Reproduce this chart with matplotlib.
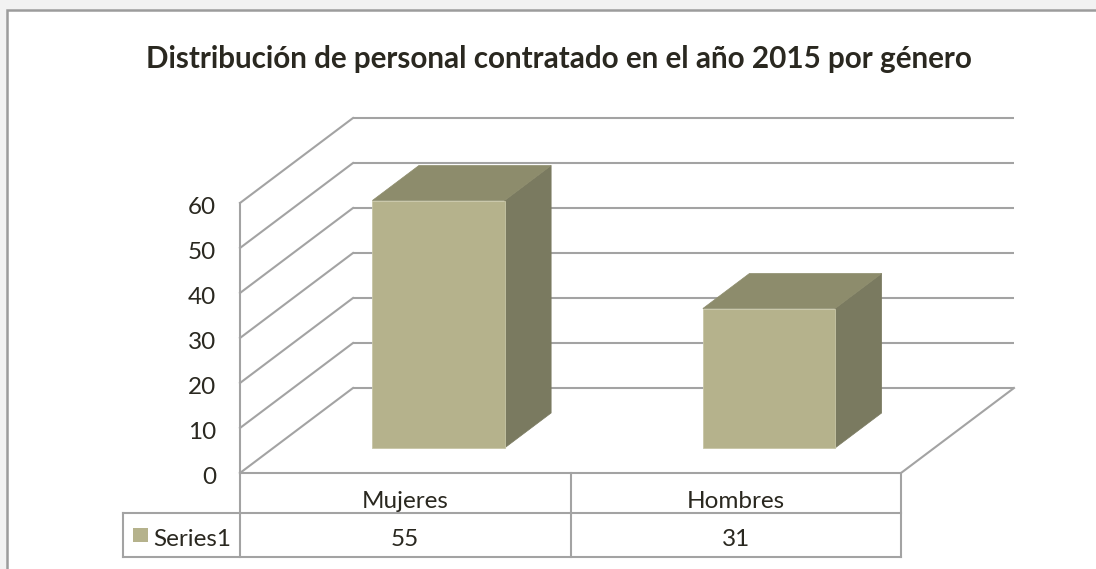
import matplotlib
matplotlib.use("Agg")
import matplotlib.pyplot as plt
from matplotlib.patches import Polygon, Rectangle
from matplotlib.transforms import offset_copy

# ---- data ----
title = "Distribución de personal contratado en el año 2015 por género"
categories = ["Mujeres", "Hombres"]
series_name = "Series1"
values = [55, 31]
yticks = [0, 10, 20, 30, 40, 50, 60]

# ---- style / layout ----
W, H = 1096, 569
FONT = "Lato"
TXT = "#2a2820"
GRID = "#a3a3a3"
FRONT = "#b5b28c"
TOP = "#8d8c6c"
SIDE = "#7a7a60"

# pixel geometry of the 3D frame (layout)
PX0, PY0 = 240, 473          # front-left floor corner (value 0)
PX_PER_CAT = 330.5
PY_PER_VAL = 4.5
DEPTH_PX = (113, 85)         # back offset in pixels
DEPTH = (DEPTH_PX[0] / PX_PER_CAT, DEPTH_PX[1] / PY_PER_VAL)  # in data units

fig = plt.figure(figsize=(W / 100, H / 100), dpi=100)
fig.patch.set_facecolor("#f2f2f2")

def fx(x):
    return x / W
def fy(y):
    return 1 - y / H

# chart area with border (extends past the right and bottom edges)
fig.patches.append(Rectangle((fx(7), fy(620)), (1140 - 7) / W, (620 - 10) / H,
                             transform=fig.transFigure, facecolor="white",
                             edgecolor="#9c9c9c", linewidth=1.8, zorder=-10))

ax = fig.add_axes([0, 0, 1, 1])
ax.set_zorder(5)
ax.set_xlim(-PX0 / PX_PER_CAT, (W - PX0) / PX_PER_CAT)
ax.set_ylim((PY0 - H) / PY_PER_VAL, PY0 / PY_PER_VAL)
ax.axis("off")
ax.patch.set_alpha(0)

def P(x, v, d):
    """category-x, value, depth(0 front .. 1 back) -> data coords"""
    return (x + d * DEPTH[0], v + d * DEPTH[1])

ncat = len(categories)
vmax = yticks[-1]
lw = 1.5

# back wall gridlines + left wall diagonals
for v in yticks:
    a = P(0, v, 1); b = P(ncat, v, 1)
    ax.plot([a[0], b[0]], [a[1], b[1]], color=GRID, lw=lw, solid_capstyle="butt", zorder=1)
    c = P(0, v, 0)
    ax.plot([c[0], a[0]], [c[1], a[1]], color=GRID, lw=lw, zorder=1)
# front vertical of left wall
a = P(0, 0, 0); b = P(0, vmax, 0)
ax.plot([a[0], b[0]], [a[1], b[1]], color=GRID, lw=lw, zorder=1)
# floor front + right edge
a = P(0, 0, 0); b = P(ncat, 0, 0); c = P(ncat, 0, 1)
ax.plot([a[0], b[0], c[0]], [a[1], b[1], c[1]], color=GRID, lw=lw, zorder=1)

# bars
bw = 0.4
d0, d1 = 0.294, 0.706
for i, val in enumerate(values):
    x0 = i + 0.5 - bw / 2
    x1 = i + 0.5 + bw / 2
    side = [P(x1, 0, d0), P(x1, 0, d1), P(x1, val, d1), P(x1, val, d0)]
    top = [P(x0, val, d0), P(x1, val, d0), P(x1, val, d1), P(x0, val, d1)]
    front = [P(x0, 0, d0), P(x1, 0, d0), P(x1, val, d0), P(x0, val, d0)]
    ax.add_patch(Polygon(side, closed=True, facecolor=SIDE, edgecolor=SIDE, lw=0.5, zorder=3))
    ax.add_patch(Polygon(top, closed=True, facecolor=TOP, edgecolor=TOP, lw=0.5, zorder=3))
    ax.add_patch(Polygon(front, closed=True, facecolor=FRONT, edgecolor="#c8c6a6", lw=0.6, zorder=4))

# y tick labels
tick_tr = offset_copy(ax.transData, fig=fig, x=-24, y=-11, units="dots")
for v in yticks:
    ax.text(0, v, str(v), transform=tick_tr, ha="right", va="baseline",
            fontsize=17.5, family=FONT, color=TXT)

# title
fig.text(fx(559), fy(68), title, ha="center", va="baseline", fontsize=21.3,
         family=FONT, fontweight="bold", color=TXT)

# data table
def hline(y, x0, x1):
    fig.add_artist(plt.Line2D([fx(x0), fx(x1)], [fy(y), fy(y)], color=GRID, lw=lw,
                              transform=fig.transFigure))
def vline(x, y0, y1):
    fig.add_artist(plt.Line2D([fx(x), fx(x)], [fy(y0), fy(y1)], color=GRID, lw=lw,
                              transform=fig.transFigure))

row1, row2, row3 = 473, 513, 557
xleft = 123
xs = [PX0 + k * PX_PER_CAT for k in range(ncat + 1)]
hline(row2, xleft, xs[-1])
hline(row3, xleft, xs[-1])
for x in xs:
    vline(x, row1, row3)
vline(xleft, row2, row3)

for i, (cat, val) in enumerate(zip(categories, values)):
    cx = PX0 + (i + 0.5) * PX_PER_CAT
    fig.text(fx(cx), fy(508), cat, ha="center", va="baseline", fontsize=17.5,
             family=FONT, color=TXT)
    fig.text(fx(cx), fy(546), str(val), ha="center", va="baseline", fontsize=17.5,
             family=FONT, color=TXT)

fig.add_artist(Rectangle((fx(133), fy(542)), 15 / W, 14 / H, transform=fig.transFigure,
                         facecolor=FRONT, edgecolor="none"))
fig.text(fx(153), fy(546), series_name, ha="left", va="baseline", fontsize=17.5,
         family=FONT, color=TXT)

fig.savefig("out.png", dpi=100, facecolor=fig.get_facecolor())
